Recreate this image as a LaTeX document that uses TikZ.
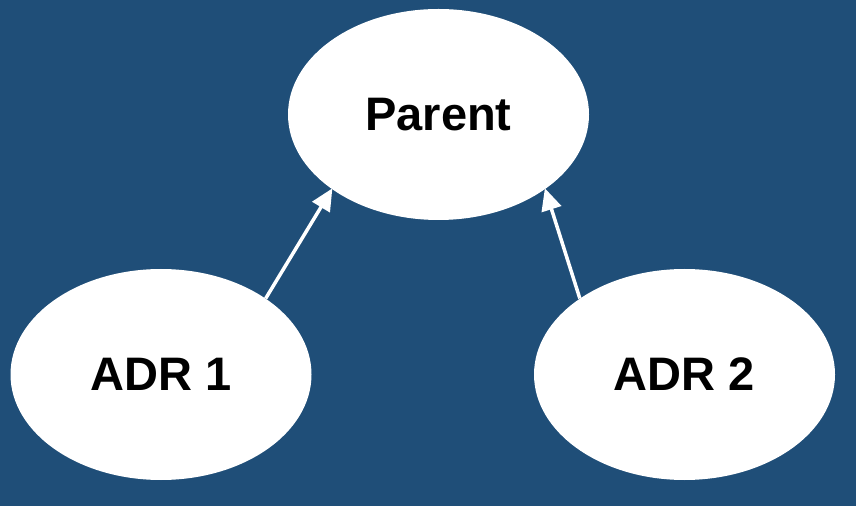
\documentclass[tikz,border=0pt]{standalone}
\usepackage{fontspec}
\setmainfont{Liberation Sans}
\usetikzlibrary{shapes.geometric,arrows.meta}
\definecolor{bgblue}{HTML}{1F4E78}
\tikzset{
    bubble/.style={ellipse, fill=white, draw=none, inner sep=0pt,
        minimum width=301pt, minimum height=211pt,
        font=\fontsize{47}{50}\selectfont\bfseries, text=black},
    uparrow/.style={draw=white, line width=3.5pt,
        -{Triangle[length=22pt,width=20pt]}, shorten >=-1pt}
}
\begin{document}
\begin{tikzpicture}[x=1pt,y=1pt]
            % background
            \fill [bgblue] (0,0) rectangle (856,506);
            \node [bubble] (parent) at (438.5,391.5) {Parent};
            \node [bubble] (adr1) at (161,131.5) {ADR 1};
            \node [bubble] (adr2) at (684.5,131.5) {ADR 2};

            \draw [uparrow] (adr1.36) -- (parent.215);
            \draw [uparrow] (adr2.144) -- (parent.325);
\end{tikzpicture}
\end{document}
